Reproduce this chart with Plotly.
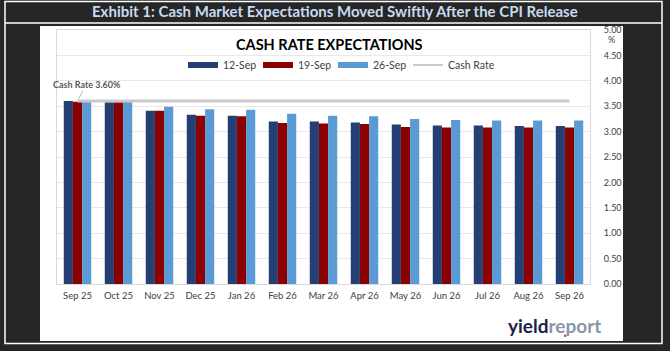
import plotly.graph_objects as go

categories = ["Sep 25", "Oct 25", "Nov 25", "Dec 25", "Jan 26", "Feb 26", "Mar 26",
              "Apr 26", "May 26", "Jun 26", "Jul 26", "Aug 26", "Sep 26"]
sep12 = [3.60, 3.58, 3.41, 3.33, 3.31, 3.20, 3.20, 3.18, 3.14, 3.12, 3.12, 3.11, 3.11]
sep19 = [3.59, 3.58, 3.41, 3.31, 3.30, 3.17, 3.16, 3.15, 3.09, 3.08, 3.08, 3.08, 3.08]
sep26 = [3.59, 3.59, 3.49, 3.44, 3.43, 3.35, 3.31, 3.30, 3.25, 3.23, 3.22, 3.22, 3.22]
cash_rate = [3.60] * len(categories)
y_ticks = [0.0, 0.5, 1.0, 1.5, 2.0, 2.5, 3.0, 3.5, 4.0, 4.5, 5.0]

W, H = 670, 351
L, R, T, B = 57, 590, 30, 284


def px(x):
    return (x - L) / (R - L)


def py(y):
    return (B - y) / (B - T)


C1, C2, C3 = "#243F74", "#8B0000", "#5B9BD5"
LINEC = "#C9C9C9"
FONT = "Lato"

fig = go.Figure()
for name, vals, col in [("12-Sep", sep12, C1), ("19-Sep", sep19, C2), ("26-Sep", sep26, C3)]:
    fig.add_trace(go.Bar(x=categories, y=vals, name=name, marker=dict(color=col, line=dict(width=0)),
                         showlegend=False))
fig.add_trace(go.Scatter(x=categories, y=cash_rate, mode="lines", name="Cash Rate",
                         line=dict(color=LINEC, width=3), showlegend=False))
# legend entries
for name, col, w, lg in [("12-Sep", C1, 6, "legend"), ("19-Sep", C2, 6, "legend"),
                         ("26-Sep", C3, 6, "legend"), ("Cash Rate", LINEC, 2, "legend2")]:
    fig.add_trace(go.Scatter(x=[None], y=[None], mode="lines", name=name, legend=lg,
                             line=dict(color=col, width=w), showlegend=True))

shapes = [
    dict(type="rect", xref="paper", yref="paper", x0=px(40), x1=px(623), y0=py(26), y1=py(341),
         fillcolor="white", line=dict(width=0), layer="below"),
    dict(type="rect", xref="paper", yref="paper", x0=px(5), x1=px(662), y0=py(1.5), y1=py(343.5),
         line=dict(color="white", width=1.5), layer="above"),
    dict(type="line", xref="paper", yref="paper", x0=px(5), x1=px(662), y0=py(23), y1=py(23),
         line=dict(color="white", width=1.5)),
    dict(type="circle", xref="paper", yref="paper", x0=px(564), x1=px(566.5), y0=py(334.5), y1=py(337),
         fillcolor="#E0202A", line=dict(width=0)),
]

annotations = [
    dict(text="<b>Exhibit 1: Cash Market Expectations Moved Swiftly After the CPI Release</b>",
         xref="paper", yref="paper", x=px(335), y=py(11.5), showarrow=False,
         font=dict(family=FONT, size=15, color="#C6DBF0"), xanchor="center", yanchor="middle"),
    dict(text="<b>CASH RATE EXPECTATIONS</b>", xref="paper", yref="paper", x=px(329), y=py(44),
         showarrow=False, font=dict(family=FONT, size=14.5, color="#000000"),
         xanchor="center", yanchor="middle"),
    dict(text="%", xref="paper", yref="paper", x=px(617), y=py(39), showarrow=False,
         font=dict(family=FONT, size=9, color="#404040"), xanchor="right", yanchor="middle"),
    dict(text="<b>Cash Rate 3.60%</b>", x=categories[0], y=cash_rate[0], xref="x", yref="y",
         showarrow=True, arrowhead=0, arrowwidth=0.8, arrowcolor="#A6A6A6", ax=9, ay=-17,
         standoff=2, font=dict(family=FONT, size=9, color="#595959")),
    dict(text='<b><span style="color:#1B2048">yield</span><span style="color:#8C95A8">report</span></b>',
         xref="paper", yref="paper", x=px(554), y=py(325), showarrow=False,
         font=dict(family=FONT, size=19), xanchor="center", yanchor="middle"),
]

legend_common = dict(orientation="h", yanchor="middle", xanchor="left",
                     font=dict(family=FONT, size=10.5, color="#404040"), bgcolor="rgba(0,0,0,0)",
                     itemwidth=30, tracegroupgap=0)

fig.update_layout(
    width=W, height=H,
    margin=dict(l=L, r=W - R, t=T, b=H - B, pad=0),
    paper_bgcolor="#262626", plot_bgcolor="white",
    barmode="group", bargap=0.33, bargroupgap=0,
    font=dict(family=FONT, color="#404040"),
    showlegend=True,
    legend=dict(x=px(183), y=py(65), entrywidth=30, entrywidthmode="pixels", **legend_common),
    legend2=dict(x=px(408), y=py(65), **legend_common),
    shapes=shapes, annotations=annotations,
    xaxis=dict(range=[-0.5, len(categories) - 0.5], showgrid=False, showline=True,
               linecolor="#D9D9D9", linewidth=1, mirror=True, ticklabelstandoff=3,
               ticks="", tickfont=dict(family=FONT, size=9.5, color="#404040"), fixedrange=True),
    yaxis=dict(range=[0, 5], side="right", tickvals=y_ticks, tickformat=".2f",
               showgrid=True, gridcolor="#E8E8E8", gridwidth=1, showline=True, linecolor="#D9D9D9",
               mirror=True, ticks="", ticklabelstandoff=11, zeroline=False,
               tickfont=dict(family=FONT, size=9, color="#404040")),
)

fig.write_html("out.html")
